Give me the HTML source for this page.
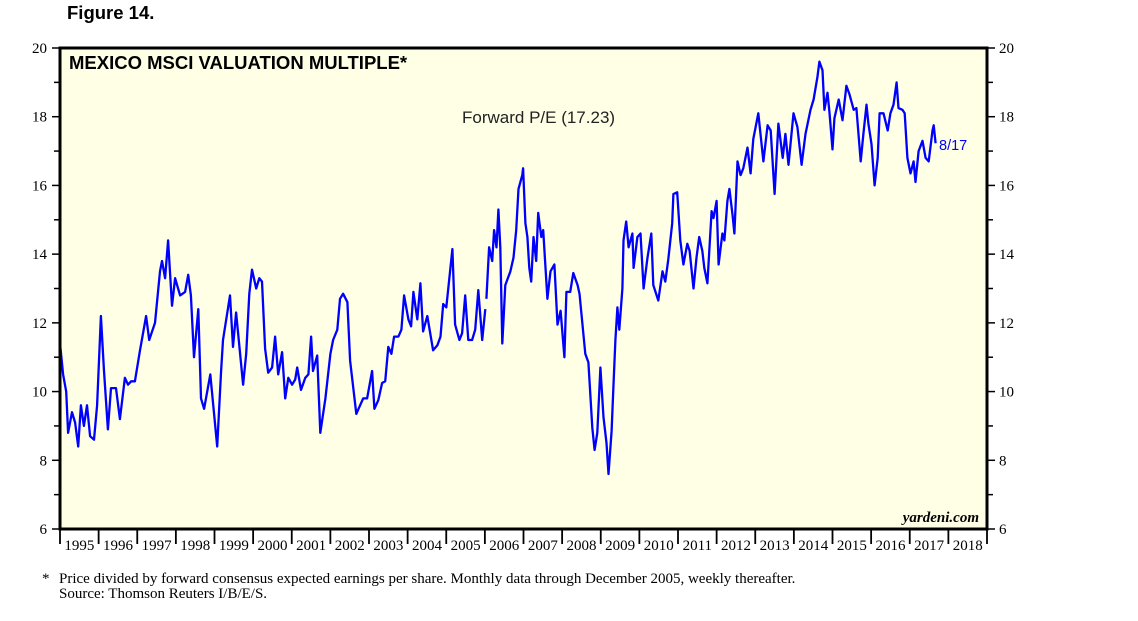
<!DOCTYPE html>
<html><head><meta charset="utf-8"><style>
body{margin:0;background:#fff;width:1138px;height:621px;overflow:hidden}
svg{display:block}
.ser{font-family:"Liberation Serif",serif}
.san{font-family:"Liberation Sans",sans-serif}
</style></head><body>
<svg id="chart" width="1138" height="621">
<text x="67" y="19" class="san" font-size="18.5" font-weight="bold">Figure 14.</text>
<rect x="60" y="48" width="927" height="481" fill="#ffffe6"/>
<g id="yaxes"></g><g id="xaxis"></g>
<polyline id="line1" fill="none" stroke="#0000ff" stroke-width="2.3" stroke-linejoin="round"/>
<polyline id="line2" fill="none" stroke="#0000ff" stroke-width="2.3" stroke-linejoin="round"/>
<rect x="60" y="48" width="927" height="481" fill="none" stroke="#000" stroke-width="3"/>
<text x="69" y="69" class="san" font-size="18.5" font-weight="bold">MEXICO MSCI VALUATION MULTIPLE*</text>
<text x="462" y="123" class="san" font-size="17" fill="#222">Forward P/E (17.23)</text>
<text x="939" y="150" class="san" font-size="14.5" fill="#0000ff">8/17</text>
<text x="979" y="522" class="ser" font-size="15" font-style="italic" font-weight="bold" text-anchor="end">yardeni.com</text>
<text x="42" y="583" class="ser" font-size="15">*</text>
<text x="59" y="583" class="ser" font-size="15">Price divided by forward consensus expected earnings per share. Monthly data through December 2005, weekly thereafter.</text>
<text x="59" y="598" class="ser" font-size="15">Source: Thomson Reuters I/B/E/S.</text>
</svg>
<script>
const yTicks=[6,8,10,12,14,16,18,20];
const years=[1995,1996,1997,1998,1999,2000,2001,2002,2003,2004,2005,2006,2007,2008,2009,2010,2011,2012,2013,2014,2015,2016,2017,2018];
const monthlyDates=[1995.00,1995.08,1995.16,1995.21,1995.31,1995.39,1995.47,1995.54,1995.62,1995.70,1995.78,1995.88,1995.96,1996.06,1996.14,1996.24,1996.32,1996.45,1996.55,1996.68,1996.76,1996.84,1996.94,1997.07,1997.23,1997.31,1997.46,1997.59,1997.64,1997.72,1997.80,1997.90,1997.98,1998.11,1998.24,1998.32,1998.39,1998.47,1998.58,1998.65,1998.73,1998.89,1999.07,1999.17,1999.22,1999.40,1999.48,1999.56,1999.74,1999.82,1999.90,1999.97,2000.08,2000.16,2000.23,2000.31,2000.39,2000.49,2000.57,2000.65,2000.75,2000.83,2000.91,2001.01,2001.09,2001.14,2001.24,2001.35,2001.43,2001.50,2001.55,2001.66,2001.74,2001.87,2002.00,2002.07,2002.18,2002.25,2002.33,2002.44,2002.51,2002.67,2002.77,2002.85,2002.95,2003.08,2003.14,2003.24,2003.34,2003.42,2003.50,2003.58,2003.65,2003.76,2003.84,2003.91,2004.02,2004.09,2004.15,2004.25,2004.33,2004.40,2004.51,2004.66,2004.77,2004.85,2004.92,2005.00,2005.16,2005.23,2005.34,2005.41,2005.49,2005.57,2005.67,2005.75,2005.83,2005.93,2006.01];
const monthlyPE=[11.4,10.5,10.0,8.8,9.4,9.1,8.4,9.6,9.0,9.6,8.7,8.6,9.6,12.2,10.6,8.9,10.1,10.1,9.2,10.4,10.2,10.3,10.3,11.2,12.2,11.5,12.0,13.5,13.8,13.3,14.4,12.5,13.3,12.8,12.9,13.4,12.8,11.0,12.4,9.8,9.5,10.5,8.4,10.6,11.5,12.8,11.3,12.3,10.2,11.1,12.85,13.55,13.0,13.3,13.2,11.25,10.55,10.7,11.6,10.5,11.15,9.8,10.4,10.2,10.35,10.7,10.05,10.4,10.5,11.6,10.6,11.05,8.8,9.8,11.1,11.5,11.8,12.7,12.85,12.6,10.9,9.35,9.6,9.8,9.8,10.6,9.5,9.75,10.25,10.3,11.3,11.1,11.6,11.6,11.8,12.8,12.1,11.9,12.9,12.1,13.15,11.75,12.2,11.2,11.35,11.6,12.55,12.45,14.15,11.95,11.5,11.7,12.8,11.5,11.5,11.8,12.95,11.5,12.4];
const weeklyDates=[2006.04,2006.11,2006.19,2006.24,2006.30,2006.35,2006.40,2006.45,2006.53,2006.66,2006.74,2006.81,2006.87,2006.97,2006.99,2007.05,2007.10,2007.15,2007.20,2007.26,2007.33,2007.38,2007.46,2007.51,2007.62,2007.70,2007.80,2007.88,2007.96,2008.06,2008.11,2008.21,2008.29,2008.40,2008.45,2008.60,2008.68,2008.78,2008.84,2008.91,2008.99,2009.07,2009.15,2009.20,2009.28,2009.33,2009.38,2009.43,2009.48,2009.56,2009.59,2009.66,2009.72,2009.82,2009.85,2009.95,2010.03,2010.11,2010.21,2010.31,2010.36,2010.49,2010.60,2010.67,2010.75,2010.85,2010.88,2010.98,2011.06,2011.14,2011.24,2011.30,2011.40,2011.48,2011.55,2011.63,2011.68,2011.76,2011.87,2011.92,2012.00,2012.05,2012.15,2012.20,2012.28,2012.33,2012.41,2012.46,2012.54,2012.62,2012.69,2012.80,2012.88,2012.95,2013.08,2013.21,2013.32,2013.40,2013.50,2013.60,2013.71,2013.78,2013.86,2013.99,2014.09,2014.20,2014.30,2014.43,2014.51,2014.61,2014.66,2014.74,2014.79,2014.87,2014.92,2015.00,2015.05,2015.16,2015.26,2015.36,2015.44,2015.55,2015.62,2015.73,2015.80,2015.88,2015.93,2016.01,2016.09,2016.17,2016.22,2016.32,2016.43,2016.50,2016.58,2016.66,2016.71,2016.81,2016.87,2016.94,2017.02,2017.10,2017.15,2017.23,2017.33,2017.41,2017.49,2017.59,2017.62,2017.67];
const weeklyPE=[12.7,14.2,13.8,14.7,14.2,15.3,14.2,11.4,13.1,13.5,13.9,14.7,15.9,16.3,16.5,14.9,14.5,13.6,13.2,14.5,13.8,15.2,14.5,14.7,12.7,13.5,13.7,11.95,12.35,11.0,12.9,12.9,13.45,13.1,12.85,11.1,10.85,8.95,8.3,8.8,10.7,9.25,8.5,7.6,8.85,10.2,11.5,12.45,11.8,13.0,14.4,14.95,14.2,14.6,13.6,14.5,14.6,13.0,13.9,14.6,13.1,12.65,13.5,13.2,13.85,14.9,15.75,15.8,14.4,13.7,14.3,14.1,13.0,13.9,14.5,14.1,13.6,13.15,15.25,15.05,15.55,13.7,14.6,14.4,15.55,15.9,15.15,14.6,16.7,16.3,16.5,17.1,16.35,17.35,18.1,16.7,17.75,17.6,15.75,17.8,16.8,17.5,16.6,18.1,17.7,16.6,17.5,18.2,18.5,19.15,19.6,19.35,18.2,18.7,18.15,17.05,17.95,18.5,17.9,18.9,18.65,18.2,18.25,16.7,17.5,18.35,17.8,17.2,16.0,16.8,18.1,18.1,17.6,18.1,18.35,19.0,18.25,18.2,18.1,16.8,16.35,16.7,16.1,17.0,17.3,16.8,16.7,17.6,17.75,17.23];

const L=60,R=987,T=48,B=529,Y0=1995,Y1=2019;
const xS=t=>L+(t-Y0)/(Y1-Y0)*(R-L);
const yS=v=>B-(v-6)/(20-6)*(B-T);
const NS='http://www.w3.org/2000/svg';
function mk(tag,attrs,parent,txt){const e=document.createElementNS(NS,tag);for(const k in attrs)e.setAttribute(k,attrs[k]);if(txt!==undefined)e.textContent=txt;parent.appendChild(e);return e;}
const ya=document.getElementById('yaxes');
for(let v=6;v<=20;v++){
  const y=yS(v),len=(v%2===0)?8:6;
  const t1=mk('line',{x1:L-len,x2:L,y1:y,y2:y,stroke:'#000','stroke-width':1.5},ya);
  
  
  const t2=mk('line',{x1:R,x2:R+len,y1:y,y2:y,stroke:'#000','stroke-width':1.5},ya);
  
  
}
yTicks.forEach(v=>{
  const y=yS(v);
  const a=mk('text',{x:L-13,y:y+5,'text-anchor':'end',class:'ser','font-size':15},ya,String(v));
  
  
  const b=mk('text',{x:R+12,y:y+5,class:'ser','font-size':15},ya,String(v));
  
  
});
const xa=document.getElementById('xaxis');
for(let i=0;i<=years.length;i++){
  const x=xS(Y0+i);
  const tk=mk('line',{x1:x,x2:x,y1:B,y2:B+15,stroke:'#000','stroke-width':1.8},xa);
  
  
}
years.forEach(yr=>{
  const lb=mk('text',{x:xS(yr+0.5),y:B+21,'text-anchor':'middle',class:'ser','font-size':15},xa,String(yr));
  
  
});
document.getElementById('line1').setAttribute('points',monthlyDates.map((d,i)=>xS(d).toFixed(1)+','+yS(monthlyPE[i]).toFixed(1)).join(' '));
document.getElementById('line2').setAttribute('points',weeklyDates.map((d,i)=>xS(d).toFixed(1)+','+yS(weeklyPE[i]).toFixed(1)).join(' '));
</script>
</body></html>
